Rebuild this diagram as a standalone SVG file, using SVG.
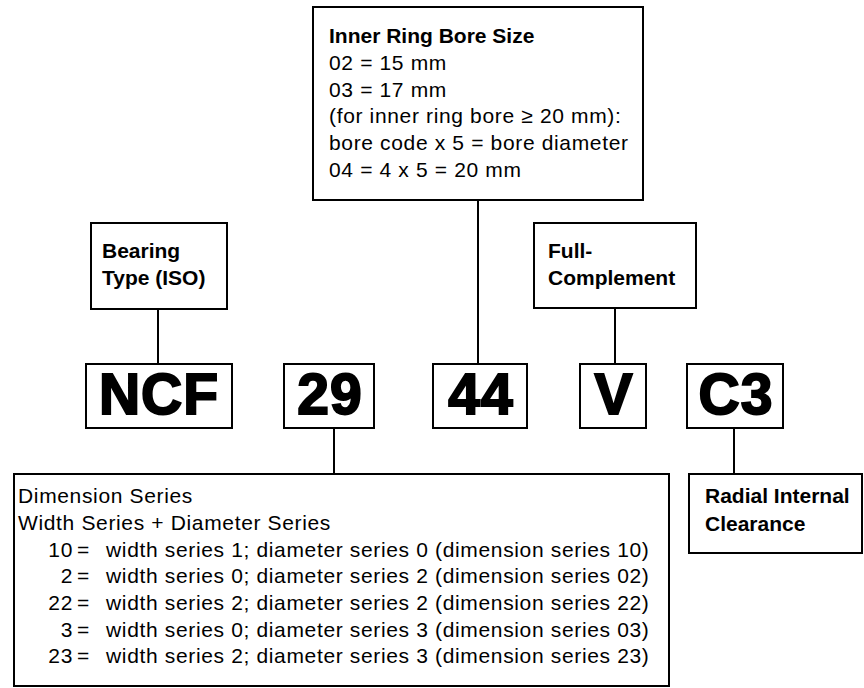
<svg xmlns="http://www.w3.org/2000/svg" width="864" height="688" viewBox="0 0 864 688">
<style>
.box{fill:#fff;stroke:#000;stroke-width:2}
.ln{stroke:#000;stroke-width:2;fill:none}
.b{font-family:"Liberation Sans",Arial,sans-serif;font-weight:bold;font-size:21px;fill:#000}
.r{font-family:"Liberation Sans",Arial,sans-serif;font-size:21px;letter-spacing:0.65px;fill:#000}
.big{font-family:"Liberation Sans",Arial,sans-serif;font-weight:bold;font-size:57px;fill:#000;stroke:#000;stroke-width:2;text-anchor:middle;letter-spacing:1px}
</style>
<rect width="864" height="688" fill="#fff"/>
<g id="connectors">
<line class="ln" x1="478" y1="200" x2="478" y2="364"/>
<line class="ln" x1="158" y1="309" x2="158" y2="364"/>
<line class="ln" x1="615" y1="308" x2="615" y2="364"/>
<line class="ln" x1="334" y1="428" x2="334" y2="474"/>
<line class="ln" x1="734" y1="428" x2="734" y2="474"/>
</g>
<g id="inner-ring">
<rect class="box" x="313" y="7" width="330" height="193"/>
<text class="b" x="329" y="43">Inner Ring Bore Size</text>
<text class="r" x="329" y="70">02 = 15 mm</text>
<text class="r" x="329" y="97">03 = 17 mm</text>
<text class="r" x="329" y="123">(for inner ring bore ≥ 20 mm):</text>
<text class="r" x="329" y="150">bore code x 5 = bore diameter</text>
<text class="r" x="329" y="177">04 = 4 x 5 = 20 mm</text>
</g>
<g id="bearing-type">
<rect class="box" x="91" y="223" width="136" height="86"/>
<text class="b" x="102" y="258">Bearing</text>
<text class="b" x="102" y="285">Type (ISO)</text>
</g>
<g id="full-complement">
<rect class="box" x="534" y="223" width="162" height="85"/>
<text class="b" x="548" y="258">Full-</text>
<text class="b" x="548" y="285">Complement</text>
</g>
<g id="code-ncf">
<rect class="box" x="86" y="364" width="146" height="64"/>
<text class="big" x="159" y="414">NCF</text>
</g>
<g id="code-29">
<rect class="box" x="284" y="364" width="90" height="64"/>
<text class="big" x="330" y="414">29</text>
</g>
<g id="code-44">
<rect class="box" x="433" y="364" width="94" height="64"/>
<text class="big" x="481" y="414">44</text>
</g>
<g id="code-v">
<rect class="box" x="580" y="364" width="66" height="64"/>
<text class="big" x="614" y="414">V</text>
</g>
<g id="code-c3">
<rect class="box" x="687" y="364" width="96" height="64"/>
<text class="big" x="736" y="414">C3</text>
</g>
<g id="dimension-series">
<rect class="box" x="14" y="474" width="655" height="212"/>
<text class="r" x="18" y="503">Dimension Series</text>
<text class="r" x="18" y="530">Width Series + Diameter Series</text>
<g class="r">
<text x="73" y="557" text-anchor="end">10</text><text x="77" y="557">=</text><text x="106" y="557">width series 1; diameter series 0 (dimension series 10)</text>
<text x="73" y="583" text-anchor="end">2</text><text x="77" y="583">=</text><text x="106" y="583">width series 0; diameter series 2 (dimension series 02)</text>
<text x="73" y="610" text-anchor="end">22</text><text x="77" y="610">=</text><text x="106" y="610">width series 2; diameter series 2 (dimension series 22)</text>
<text x="73" y="637" text-anchor="end">3</text><text x="77" y="637">=</text><text x="106" y="637">width series 0; diameter series 3 (dimension series 03)</text>
<text x="73" y="663" text-anchor="end">23</text><text x="77" y="663">=</text><text x="106" y="663">width series 2; diameter series 3 (dimension series 23)</text>
</g>
</g>
<g id="radial-clearance">
<rect class="box" x="689" y="474" width="173" height="79"/>
<text class="b" x="705" y="503">Radial Internal</text>
<text class="b" x="705" y="531">Clearance</text>
</g>
</svg>
